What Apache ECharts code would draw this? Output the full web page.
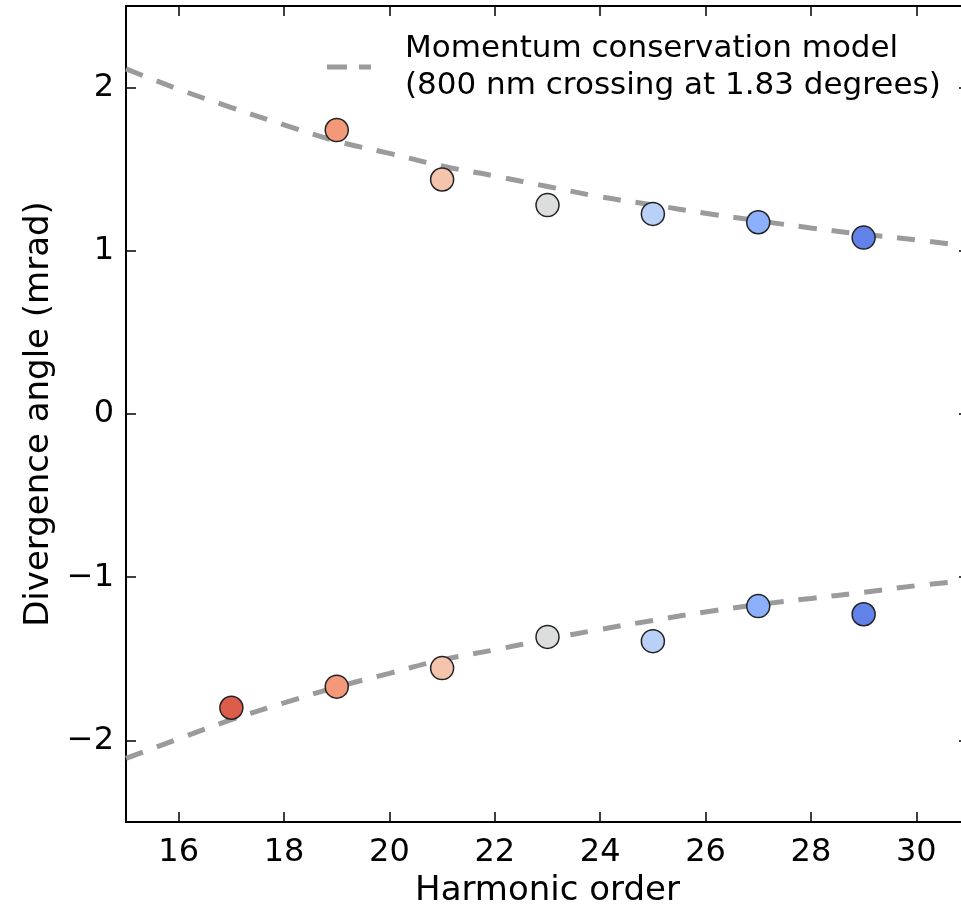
<!DOCTYPE html>
<html>
<head>
<meta charset="utf-8">
<script src="https://cdn.jsdelivr.net/npm/echarts@6/dist/echarts.min.js"></script>
<style>
html,body{margin:0;padding:0;background:#fff;overflow:hidden;width:961px;height:913px;}
#chart{width:969px;height:913px;}
</style>
</head>
<body>
<div id="chart"></div>
<script>
// Measured data
const harmonics = [17, 19, 21, 23, 25, 27, 29];
const upperAngle = [null, 1.74, 1.437, 1.28, 1.226, 1.175, 1.081];
const lowerAngle = [-1.80, -1.671, -1.557, -1.366, -1.392, -1.177, -1.227];
const pointColors = ['#dc5d4a', '#f4987a', '#f5c4ac', '#dcdddd', '#b9d0f9', '#8db0fe', '#6282ea'];

const modelOrder = [15, 16, 17, 18, 19, 20, 21, 22, 23, 24, 25, 26, 27, 28, 29, 30, 31];
const modelUpper = [2.115, 1.99, 1.878, 1.772, 1.672, 1.597, 1.52, 1.458, 1.394, 1.331, 1.281, 1.23, 1.184, 1.14, 1.101, 1.067, 1.025];
const modelLower = [-2.11, -1.99, -1.873, -1.77, -1.674, -1.589, -1.507, -1.445, -1.38, -1.32, -1.265, -1.213, -1.168, -1.13, -1.093, -1.052, -1.02];

const xTicks = [16, 18, 20, 22, 24, 26, 28, 30];
const yTicks = [-2, -1, 0, 1, 2];

const modelName = 'Momentum conservation model\n(800 nm crossing at 1.83 degrees)';
const FONT = 'DejaVu Sans';

function pts(xs, ys) {
  const out = [];
  for (let i = 0; i < xs.length; i++) if (ys[i] !== null) out.push([xs[i], ys[i]]);
  return out;
}
function scatterData(ys) {
  const out = [];
  for (let i = 0; i < harmonics.length; i++) {
    if (ys[i] === null) continue;
    out.push({ value: [harmonics[i], ys[i]], itemStyle: { color: pointColors[i] } });
  }
  return out;
}
const minus = v => (v < 0 ? '\u2212' + Math.abs(v) : String(v));

const modelColor = '#9b9b9b';
const lineStyleModel = { color: modelColor, width: 5, type: [18, 15] };
const axisLineStyle = { color: '#000', width: 2 };
const tickStyle = { color: '#000', width: 1.5 };

const chart = echarts.init(document.getElementById('chart'), null, { renderer: 'canvas', width: 969, height: 913 });
chart.setOption({
  animation: false,
  backgroundColor: '#ffffff',
  grid: { left: 126, top: 6, right: 0, bottom: 89, containLabel: false },
  legend: {
    data: [{ name: modelName, icon: 'path://M0,0 L20,0 L20,5 L0,5 Z M32,0 L44,0 L44,5 L32,5 Z' }],
    left: 322,
    top: 25,
    itemWidth: 44,
    itemHeight: 5,
    itemStyle: { color: modelColor, borderWidth: 0 },
    textStyle: { fontFamily: FONT, fontSize: 31, lineHeight: 37, color: '#000', padding: [0, 0, 0, 29] },
    selectedMode: false
  },
  xAxis: [
    {
      type: 'value', min: 15, max: 31, position: 'bottom',
      name: 'Harmonic order', nameLocation: 'middle', nameGap: 52,
      nameTextStyle: { fontFamily: FONT, fontSize: 34, color: '#000' },
      axisLine: { show: true, onZero: false, lineStyle: axisLineStyle },
      axisTick: { show: true, inside: true, length: 10, customValues: xTicks, lineStyle: tickStyle },
      axisLabel: { customValues: xTicks, fontFamily: FONT, fontSize: 32, color: '#000', margin: 15, formatter: minus },
      splitLine: { show: false }
    },
    {
      type: 'value', min: 15, max: 31, position: 'top',
      axisLine: { show: true, onZero: false, lineStyle: axisLineStyle },
      axisTick: { show: true, inside: true, length: 10, customValues: xTicks, lineStyle: tickStyle },
      axisLabel: { show: false },
      splitLine: { show: false }
    }
  ],
  yAxis: [
    {
      type: 'value', min: -2.5, max: 2.5, position: 'left',
      name: 'Divergence angle (mrad)', nameLocation: 'middle', nameGap: 66, nameRotate: 90,
      nameTextStyle: { fontFamily: FONT, fontSize: 34, color: '#000' },
      axisLine: { show: true, onZero: false, lineStyle: axisLineStyle },
      axisTick: { show: true, inside: true, length: 10, customValues: yTicks, lineStyle: tickStyle },
      axisLabel: { customValues: yTicks, fontFamily: FONT, fontSize: 32, color: '#000', margin: 12, formatter: minus },
      splitLine: { show: false }
    },
    {
      type: 'value', min: -2.5, max: 2.5, position: 'right',
      axisLine: { show: true, onZero: false, lineStyle: axisLineStyle },
      axisTick: { show: true, inside: true, length: 10, customValues: yTicks, lineStyle: tickStyle },
      axisLabel: { show: false },
      splitLine: { show: false }
    }
  ],
  series: [
    {
      name: modelName, type: 'line', xAxisIndex: 0, yAxisIndex: 0,
      data: pts(modelOrder, modelUpper), smooth: true, symbol: 'none',
      itemStyle: { color: modelColor },
      lineStyle: lineStyleModel, z: 2, silent: true
    },
    {
      name: modelName, type: 'line', xAxisIndex: 0, yAxisIndex: 0,
      data: pts(modelOrder, modelLower), smooth: true, symbol: 'none',
      itemStyle: { color: modelColor },
      lineStyle: lineStyleModel, z: 2, silent: true
    },
    {
      name: 'upper', type: 'scatter', data: scatterData(upperAngle),
      symbol: 'circle', symbolSize: 23, z: 4,
      itemStyle: { borderColor: '#222', borderWidth: 1.5, opacity: 1 }
    },
    {
      name: 'lower', type: 'scatter', data: scatterData(lowerAngle),
      symbol: 'circle', symbolSize: 23, z: 4,
      itemStyle: { borderColor: '#222', borderWidth: 1.5, opacity: 1 }
    }
  ]
});
</script>
</body>
</html>
